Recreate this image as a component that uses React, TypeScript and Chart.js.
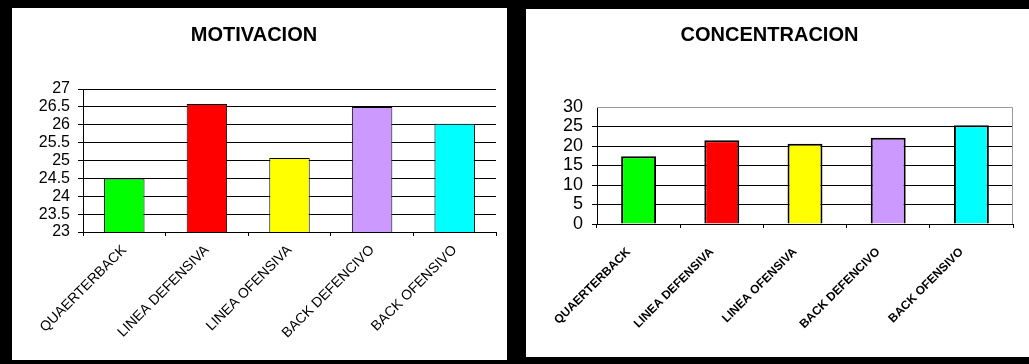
import React, { useEffect, useRef } from 'react';
import { Chart, registerables } from 'chart.js';

Chart.register(...registerables);

const categories = ['QUAERTERBACK', 'LINEA DEFENSIVA', 'LINEA OFENSIVA', 'BACK DEFENCIVO', 'BACK OFENSIVO'];
const motivacionValues = [24.5, 26.58, 25.07, 26.5, 26.03];
const concentracionValues = [17.4, 21.5, 20.6, 22.1, 25.3];
const barColors = ['#00FF00', '#FF0000', '#FFFF00', '#CC99FF', '#00FFFF'];
const motivacionTicks = [23, 23.5, 24, 24.5, 25, 25.5, 26, 26.5, 27];
const concentracionTicks = [0, 5, 10, 15, 20, 25, 30];

const FONT = '"Liberation Sans", Arial, Helvetica, sans-serif';

type Props = {
  title: string;
  values: number[];
  ticks: number[];
  width: number;
  height: number;
  plot: { left: number; right: number; top: number; bottom: number };
  titleTop: number;
  barPct: number;
  borderW: number;
  xFont: { size: number; weight: string };
  xPad: number;
  xOffset: number;
  yPad: number;
  ySize: number;
  frame: boolean;
};

const framePlugin = {
  id: 'plotFrame',
  beforeDatasetsDraw(chart: any, _args: any, opts: any) {
    if (!opts || !opts.enabled) return;
    const { ctx, chartArea } = chart;
    ctx.save();
    ctx.strokeStyle = '#9a9a9a';
    ctx.lineWidth = 1;
    ctx.beginPath();
    const t = Math.round(chartArea.top) + 0.5;
    const r = Math.round(chartArea.right) - 0.5;
    ctx.moveTo(chartArea.left, t);
    ctx.lineTo(r, t);
    ctx.lineTo(r, chartArea.bottom);
    ctx.stroke();
    ctx.restore();
  },
};

function BarChart(p: Props) {
  const ref = useRef<HTMLCanvasElement | null>(null);
  useEffect(() => {
    if (!ref.current) return;
    const tmin = p.ticks[0];
    const tmax = p.ticks[p.ticks.length - 1];
    const step = p.ticks[1] - p.ticks[0];
    const titleH = 24;
    const scales: any = {
      x: {
        grid: { drawOnChartArea: false, drawTicks: true, tickLength: 4, color: '#000', offset: true },
        border: { display: true, color: '#000', width: 1 },
        ticks: {
          color: '#000',
          maxRotation: 45,
          minRotation: 45,
          autoSkip: false,
          padding: p.xPad,
          labelOffset: p.xOffset,
          font: { family: FONT, size: p.xFont.size, weight: p.xFont.weight },
        },
        afterFit: (s: any) => {
          s.height = p.height - p.plot.bottom;
        },
      },
      y: {
        min: tmin,
        max: tmax,
        grid: {
          color: (c: any) => (p.frame && c.tick && c.tick.value === tmax ? 'rgba(0,0,0,0)' : '#000'),
          tickLength: 5,
          lineWidth: 1,
        },
        border: { display: true, color: '#000', width: 1 },
        ticks: {
          stepSize: step,
          autoSkip: false,
          color: '#000',
          padding: p.yPad,
          font: { family: FONT, size: p.ySize, lineHeight: 1 },
          callback: (v: any) => String(v),
        },
        afterFit: (s: any) => {
          s.width = p.plot.left;
        },
      },
    };
    const chart = new Chart(ref.current, {
      type: 'bar',
      data: {
        labels: categories,
        datasets: [
          {
            data: p.values,
            backgroundColor: barColors,
            borderColor: '#000',
            borderWidth: p.borderW,
            barPercentage: p.barPct,
            categoryPercentage: 1,
          },
        ],
      },
      options: {
        responsive: false,
        animation: false,
        devicePixelRatio: 1,
        layout: {
          padding: { left: 0, right: p.width - p.plot.right, top: 0, bottom: 0 },
        },
        plugins: {
          legend: { display: false },
          tooltip: { enabled: false },
          plotFrame: { enabled: p.frame },
          title: {
            display: true,
            text: p.title,
            color: '#000',
            font: { family: FONT, size: 20, weight: 'bold', lineHeight: 1.2 },
            padding: { top: p.titleTop, bottom: p.plot.top - p.titleTop - titleH },
          },
        } as any,
        scales,
      },
      plugins: [framePlugin],
    });
    return () => chart.destroy();
  }, []);
  return <canvas ref={ref} width={p.width} height={p.height} style={{ display: 'block', width: p.width, height: p.height }} />;
}

export default function App() {
  return (
    <div style={{ position: 'fixed', left: 0, top: 0, width: 1029, height: 364, background: '#000', overflow: 'hidden' }}>
      <div style={{ position: 'absolute', left: 12, top: 8, width: 495, height: 352, background: '#fff' }}>
        <BarChart
          title="MOTIVACION"
          values={motivacionValues}
          ticks={motivacionTicks}
          width={495}
          height={352}
          plot={{ left: 71, right: 484, top: 81, bottom: 224 }}
          titleTop={15}
          barPct={0.49}
          borderW={1}
          xFont={{ size: 14, weight: 'normal' }}
          xPad={6}
          xOffset={0}
          yPad={8}
          ySize={16}
          frame={false}
        />
      </div>
      <div style={{ position: 'absolute', left: 526, top: 9, width: 503, height: 348, background: '#fff' }}>
        <BarChart
          title="CONCENTRACION"
          values={concentracionValues}
          ticks={concentracionTicks}
          width={503}
          height={348}
          plot={{ left: 71, right: 487, top: 98, bottom: 215 }}
          titleTop={14}
          barPct={0.42}
          borderW={2}
          xFont={{ size: 12, weight: 'bold' }}
          xPad={17}
          xOffset={-10}
          yPad={9}
          ySize={18}
          frame={true}
        />
      </div>
    </div>
  );
}
